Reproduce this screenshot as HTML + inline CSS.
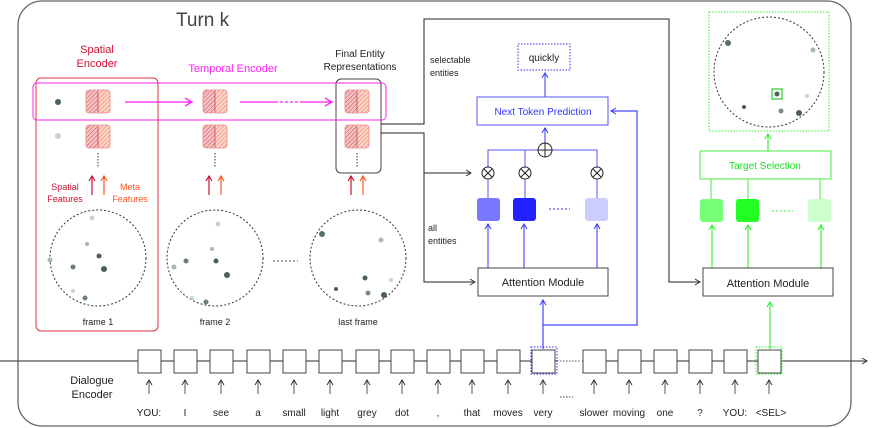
<!DOCTYPE html>
<html><head><meta charset="utf-8"><style>
html,body{margin:0;padding:0;background:#fff}
svg{display:block}
text{font-family:"Liberation Sans",sans-serif}
</style></head><body>
<svg width="872" height="428" viewBox="0 0 872 428" xmlns="http://www.w3.org/2000/svg">
<defs>
<pattern id="h1" width="3" height="3" patternUnits="userSpaceOnUse" patternTransform="rotate(45)"><rect width="3" height="3" fill="#f4c4c4"/><line x1="0" y1="0" x2="0" y2="3" stroke="#d04050" stroke-width="1"/></pattern>
<pattern id="h2" width="3" height="3" patternUnits="userSpaceOnUse" patternTransform="rotate(45)"><rect width="3" height="3" fill="#fbd6cc"/><line x1="0" y1="0" x2="0" y2="3" stroke="#f07050" stroke-width="1"/></pattern>
<marker id="ak" markerWidth="8" markerHeight="8" refX="6" refY="4" orient="auto" markerUnits="userSpaceOnUse"><path d="M1,1 L6,4 L1,7" fill="none" stroke="#333" stroke-width="1"/></marker>
<marker id="ab" markerWidth="8" markerHeight="8" refX="6" refY="4" orient="auto" markerUnits="userSpaceOnUse"><path d="M1,1 L6,4 L1,7" fill="none" stroke="#3333ff" stroke-width="1"/></marker>
<marker id="ag" markerWidth="8" markerHeight="8" refX="6" refY="4" orient="auto" markerUnits="userSpaceOnUse"><path d="M1,1 L6,4 L1,7" fill="none" stroke="#22ee22" stroke-width="1"/></marker>
<marker id="am" markerWidth="10" markerHeight="10" refX="8" refY="5" orient="auto" markerUnits="userSpaceOnUse"><path d="M1,1 L8,5 L1,9" fill="none" stroke="#ff22ee" stroke-width="1.3"/></marker>
<marker id="ar" markerWidth="8" markerHeight="8" refX="6" refY="4" orient="auto" markerUnits="userSpaceOnUse"><path d="M1,1 L6,4 L1,7" fill="none" stroke="#cc1133" stroke-width="1.2"/></marker>
<marker id="ao" markerWidth="8" markerHeight="8" refX="6" refY="4" orient="auto" markerUnits="userSpaceOnUse"><path d="M1,1 L6,4 L1,7" fill="none" stroke="#ff5522" stroke-width="1.2"/></marker>
<g id="cell"><rect x="0" y="0" width="12" height="23" rx="3" fill="url(#h1)"/><rect x="12" y="0" width="12" height="23" rx="3" fill="url(#h2)"/><rect x="0" y="0" width="24" height="23" rx="3" fill="none" stroke="#e88" stroke-width="0.8"/><line x1="12" y1="0" x2="12" y2="23" stroke="#c44" stroke-width="0.8"/></g>
</defs>

<rect x="18" y="1" width="833" height="425" rx="24" fill="none" stroke="#666" stroke-width="1.3"/>
<text x="176" y="26" font-size="19" fill="#444">Turn k</text>

<!-- spatial encoder -->
<text x="97" y="53" font-size="11" fill="#cc1133" text-anchor="middle">Spatial</text>
<text x="97" y="67" font-size="11" fill="#cc1133" text-anchor="middle">Encoder</text>
<rect x="36" y="78" width="122" height="253" rx="5" fill="none" stroke="#dd3344" stroke-width="1"/>
<text x="233" y="72" font-size="11" fill="#ff22ee" text-anchor="middle">Temporal Encoder</text>
<text x="360" y="57" font-size="10" fill="#222" text-anchor="middle">Final Entity</text>
<text x="360" y="70" font-size="10" fill="#222" text-anchor="middle">Representations</text>
<rect x="336" y="79" width="45" height="94" rx="5" fill="none" stroke="#444" stroke-width="1"/>
<rect x="33" y="83" width="353" height="37" rx="4" fill="none" stroke="#ff22ee" stroke-width="1"/>

<use href="#cell" x="86" y="90"/><use href="#cell" x="86" y="125"/>
<use href="#cell" x="203" y="90"/><use href="#cell" x="203" y="125"/>
<use href="#cell" x="345" y="90"/><use href="#cell" x="345" y="125"/>
<circle cx="58" cy="102" r="3" fill="#4a5f5c"/><circle cx="58" cy="136" r="3" fill="#c8d4d2"/>
<line x1="125" y1="102" x2="192" y2="102" stroke="#ff22ee" stroke-width="1.3" marker-end="url(#am)"/>
<line x1="240" y1="102" x2="275" y2="102" stroke="#ff22ee" stroke-width="1.3"/>
<line x1="275" y1="102" x2="300" y2="102" stroke="#ff22ee" stroke-width="1.3" stroke-dasharray="3,2"/>
<line x1="300" y1="102" x2="332" y2="102" stroke="#ff22ee" stroke-width="1.3" marker-end="url(#am)"/>
<g stroke="#333" stroke-width="1" stroke-dasharray="1.5,1.5">
<line x1="98" y1="153" x2="98" y2="167"/><line x1="215" y1="153" x2="215" y2="167"/><line x1="357" y1="153" x2="357" y2="167"/></g>
<g stroke-width="1.2">
<line x1="92" y1="195" x2="92" y2="176" stroke="#cc1133" marker-end="url(#ar)"/><line x1="104" y1="195" x2="104" y2="176" stroke="#ff5522" marker-end="url(#ao)"/>
<line x1="209" y1="195" x2="209" y2="176" stroke="#cc1133" marker-end="url(#ar)"/><line x1="221" y1="195" x2="221" y2="176" stroke="#ff5522" marker-end="url(#ao)"/>
<line x1="351" y1="195" x2="351" y2="176" stroke="#cc1133" marker-end="url(#ar)"/><line x1="363" y1="195" x2="363" y2="176" stroke="#ff5522" marker-end="url(#ao)"/></g>
<text x="65" y="190" font-size="9" fill="#cc1133" text-anchor="middle">Spatial</text>
<text x="65" y="202" font-size="9" fill="#cc1133" text-anchor="middle">Features</text>
<text x="130" y="190" font-size="9" fill="#ff5522" text-anchor="middle">Meta</text>
<text x="130" y="202" font-size="9" fill="#ff5522" text-anchor="middle">Features</text>

<g fill="none" stroke="#333" stroke-width="1" stroke-dasharray="2,2">
<circle cx="98" cy="258" r="48"/><circle cx="215" cy="258" r="48"/><circle cx="358" cy="258" r="48"/></g>
<line x1="273" y1="261" x2="298" y2="261" stroke="#555" stroke-dasharray="2,2"/>
<g>
<circle cx="92" cy="218" r="2.5" fill="#c8d4d2"/><circle cx="87" cy="244" r="2" fill="#a8b8b6"/><circle cx="99" cy="256" r="2.5" fill="#4a5f5c"/><circle cx="73" cy="267" r="2.5" fill="#6a7f7c"/><circle cx="104" cy="269" r="3" fill="#4a5f5c"/><circle cx="50" cy="260" r="2.5" fill="#a8b8b6"/><circle cx="73" cy="291" r="2" fill="#c8d4d2"/><circle cx="85" cy="298" r="2.5" fill="#6a7f7c"/>
<circle cx="218" cy="224" r="2.5" fill="#c8d4d2"/><circle cx="212" cy="249" r="2" fill="#a8b8b6"/><circle cx="186" cy="261" r="2.5" fill="#6a7f7c"/><circle cx="216" cy="261" r="2.5" fill="#4a5f5c"/><circle cx="227" cy="275" r="3" fill="#4a5f5c"/><circle cx="174" cy="267" r="2.5" fill="#a8b8b6"/><circle cx="192" cy="298" r="2" fill="#c8d4d2"/><circle cx="206" cy="302" r="2.5" fill="#6a7f7c"/>
<circle cx="322" cy="234" r="3" fill="#5a6f6c"/><circle cx="381" cy="240" r="2.5" fill="#a8b8b6"/><circle cx="365" cy="278" r="2.5" fill="#4a5f5c"/><circle cx="391" cy="280" r="2" fill="#c8d4d2"/><circle cx="336" cy="289" r="2" fill="#4a5f5c"/><circle cx="368" cy="293" r="2.5" fill="#7a8f8c"/><circle cx="384" cy="295" r="3" fill="#4a5f5c"/>
</g>
<text x="98" y="325" font-size="9" fill="#222" text-anchor="middle">frame 1</text>
<text x="215" y="325" font-size="9" fill="#222" text-anchor="middle">frame 2</text>
<text x="358" y="325" font-size="9" fill="#222" text-anchor="middle">last frame</text>

<!-- black connectors -->
<polyline points="381,124 424,124 424,19 669,19 669,282 700,282" fill="none" stroke="#222" stroke-width="1" marker-end="url(#ak)"/>
<polyline points="381,133 424,133 424,282 475,282" fill="none" stroke="#222" stroke-width="1" marker-end="url(#ak)"/>
<line x1="424" y1="173" x2="471" y2="173" stroke="#222" stroke-width="1" marker-end="url(#ak)"/>
<text x="430" y="63" font-size="9" fill="#222">selectable</text>
<text x="430" y="76" font-size="9" fill="#222">entities</text>
<text x="428" y="231" font-size="9" fill="#222">all</text>
<text x="428" y="244" font-size="9" fill="#222">entities</text>

<!-- blue -->
<rect x="518" y="44" width="52" height="26" fill="none" stroke="#3333ff" stroke-width="1" stroke-dasharray="1.5,1.5"/>
<text x="544" y="61" font-size="10" fill="#222" text-anchor="middle">quickly</text>
<line x1="545" y1="97" x2="545" y2="73" stroke="#5555ff" stroke-width="1.2" marker-end="url(#ab)"/>
<rect x="477" y="97" width="131" height="28" fill="#fff" stroke="#5555ff" stroke-width="1"/>
<text x="543" y="115" font-size="10" fill="#3333ff" text-anchor="middle">Next Token Prediction</text>
<line x1="545" y1="143" x2="545" y2="128" stroke="#5555ff" stroke-width="1.2" marker-end="url(#ab)"/>
<polyline points="488,167 488,150 597,150 597,167" fill="none" stroke="#5555ff" stroke-width="1"/>
<line x1="525" y1="150" x2="525" y2="167" stroke="#5555ff" stroke-width="1"/>
<circle cx="545" cy="150" r="7" fill="#fff" stroke="#222"/><path d="M538,150 H552 M545,143 V157" stroke="#222"/>
<g fill="#fff" stroke="#222">
<circle cx="488" cy="173" r="6"/><circle cx="525" cy="173" r="6"/><circle cx="597" cy="173" r="6"/></g>
<path d="M484,169 L492,177 M492,169 L484,177 M521,169 L529,177 M529,169 L521,177 M593,169 L601,177 M601,169 L593,177" stroke="#222"/>
<g stroke="#5555ff"><line x1="488" y1="179" x2="488" y2="198"/><line x1="525" y1="179" x2="525" y2="198"/><line x1="597" y1="179" x2="597" y2="198"/></g>
<rect x="477" y="198" width="23" height="23" rx="3" fill="#7777ff"/>
<rect x="513" y="198" width="23" height="23" rx="3" fill="#2222ff"/>
<rect x="585" y="198" width="23" height="23" rx="3" fill="#ccccff"/>
<line x1="549" y1="209" x2="570" y2="209" stroke="#3333ff" stroke-dasharray="2,2"/>
<g stroke="#5555ff" stroke-width="1.2">
<line x1="488" y1="268" x2="488" y2="224" marker-end="url(#ab)"/><line x1="524" y1="268" x2="524" y2="224" marker-end="url(#ab)"/><line x1="597" y1="268" x2="597" y2="224" marker-end="url(#ab)"/></g>
<rect x="478" y="268" width="130" height="28" fill="#fff" stroke="#444" stroke-width="1"/>
<text x="543" y="286" font-size="11" fill="#222" text-anchor="middle">Attention Module</text>
<line x1="543" y1="349" x2="543" y2="300" stroke="#4444ff" stroke-width="1.2" marker-end="url(#ab)"/>
<polyline points="543,325 637,325 637,111 611,111" fill="none" stroke="#4444ff" stroke-width="1.2" marker-end="url(#ab)"/>

<!-- green -->
<rect x="709" y="12" width="120" height="119" fill="none" stroke="#33ee33" stroke-width="1" stroke-dasharray="1.5,1.5"/>
<circle cx="769" cy="72" r="55" fill="none" stroke="#333" stroke-dasharray="2,2"/>
<circle cx="728" cy="43" r="3" fill="#5a6f6c"/><circle cx="813" cy="50" r="2.5" fill="#a8b8b6"/><circle cx="807" cy="96" r="2" fill="#c8d4d2"/><circle cx="744" cy="107" r="2" fill="#4a5f5c"/><circle cx="781" cy="111" r="2.5" fill="#7a8f8c"/><circle cx="799" cy="113" r="3" fill="#4a5f5c"/>
<rect x="772" y="89" width="10" height="10" fill="none" stroke="#22cc22" stroke-width="1.2"/><circle cx="777" cy="94" r="2.5" fill="#4a5f5c"/>
<line x1="768" y1="151" x2="768" y2="134" stroke="#44ee44" stroke-width="1.2" marker-end="url(#ag)"/>
<rect x="700" y="151" width="131" height="28" fill="#fff" stroke="#44ee44" stroke-width="1"/>
<text x="765" y="169" font-size="10" fill="#22dd22" text-anchor="middle">Target Selection</text>
<g stroke="#44ee44"><line x1="711" y1="179" x2="711" y2="199"/><line x1="748" y1="179" x2="748" y2="199"/><line x1="820" y1="179" x2="820" y2="199"/></g>
<rect x="700" y="199" width="23" height="23" rx="3" fill="#77ff77"/>
<rect x="736" y="199" width="23" height="23" rx="3" fill="#22ff22"/>
<rect x="808" y="199" width="23" height="23" rx="3" fill="#ccffcc"/>
<line x1="772" y1="211" x2="793" y2="211" stroke="#44ee44" stroke-dasharray="2,2"/>
<g stroke="#44ee44" stroke-width="1.2">
<line x1="712" y1="268" x2="712" y2="225" marker-end="url(#ag)"/><line x1="748" y1="268" x2="748" y2="225" marker-end="url(#ag)"/><line x1="821" y1="268" x2="821" y2="225" marker-end="url(#ag)"/></g>
<rect x="703" y="268" width="130" height="28" fill="#fff" stroke="#444" stroke-width="1"/>
<text x="768" y="287" font-size="11" fill="#222" text-anchor="middle">Attention Module</text>
<line x1="770" y1="349" x2="770" y2="302" stroke="#44ee44" stroke-width="1.2" marker-end="url(#ag)"/>

<!-- dialogue encoder -->
<line x1="0" y1="361" x2="867" y2="361" stroke="#555" stroke-width="1.2" marker-end="url(#ak)"/>
<line x1="557" y1="361" x2="582" y2="361" stroke="#fff" stroke-width="3"/>
<line x1="557" y1="361" x2="581" y2="361" stroke="#555" stroke-dasharray="1.5,1.5"/>
<text x="92" y="384" font-size="11" fill="#222" text-anchor="middle">Dialogue</text>
<text x="92" y="398" font-size="11" fill="#222" text-anchor="middle">Encoder</text>
<rect x="531" y="347" width="26" height="27" fill="none" stroke="#3333ff" stroke-dasharray="1.5,1.5"/>
<rect x="756" y="347" width="26" height="27" fill="none" stroke="#33ee33" stroke-dasharray="1.5,1.5"/>
<g fill="#fff" stroke="#444" stroke-width="1">
<rect x="138" y="350" width="23" height="23"/><rect x="174" y="350" width="23" height="23"/><rect x="210" y="350" width="23" height="23"/><rect x="247" y="350" width="23" height="23"/><rect x="283" y="350" width="23" height="23"/><rect x="319" y="350" width="23" height="23"/><rect x="356" y="350" width="23" height="23"/><rect x="391" y="350" width="23" height="23"/><rect x="427" y="350" width="23" height="23"/><rect x="461" y="350" width="23" height="23"/><rect x="497" y="350" width="23" height="23"/><rect x="532" y="350" width="23" height="23"/><rect x="583" y="350" width="23" height="23"/><rect x="618" y="350" width="23" height="23"/><rect x="654" y="350" width="23" height="23"/><rect x="689" y="350" width="23" height="23"/><rect x="724" y="350" width="23" height="23"/><rect x="758" y="350" width="23" height="23"/>
</g>
<g stroke="#555" stroke-width="1">
<line x1="149" y1="394" x2="149" y2="380" marker-end="url(#ak)"/><line x1="185" y1="394" x2="185" y2="380" marker-end="url(#ak)"/><line x1="221" y1="394" x2="221" y2="380" marker-end="url(#ak)"/><line x1="258" y1="394" x2="258" y2="380" marker-end="url(#ak)"/><line x1="294" y1="394" x2="294" y2="380" marker-end="url(#ak)"/><line x1="330" y1="394" x2="330" y2="380" marker-end="url(#ak)"/><line x1="367" y1="394" x2="367" y2="380" marker-end="url(#ak)"/><line x1="402" y1="394" x2="402" y2="380" marker-end="url(#ak)"/><line x1="438" y1="394" x2="438" y2="380" marker-end="url(#ak)"/><line x1="472" y1="394" x2="472" y2="380" marker-end="url(#ak)"/><line x1="508" y1="394" x2="508" y2="380" marker-end="url(#ak)"/><line x1="543" y1="394" x2="543" y2="380" marker-end="url(#ak)"/><line x1="594" y1="394" x2="594" y2="380" marker-end="url(#ak)"/><line x1="629" y1="394" x2="629" y2="380" marker-end="url(#ak)"/><line x1="665" y1="394" x2="665" y2="380" marker-end="url(#ak)"/><line x1="700" y1="394" x2="700" y2="380" marker-end="url(#ak)"/><line x1="735" y1="394" x2="735" y2="380" marker-end="url(#ak)"/><line x1="769" y1="394" x2="769" y2="380" marker-end="url(#ak)"/>
</g>
<g font-size="10" fill="#222" text-anchor="middle">
<text x="149" y="416">YOU:</text><text x="185" y="416">I</text><text x="221" y="416">see</text><text x="258" y="416">a</text><text x="294" y="416">small</text><text x="330" y="416">light</text><text x="367" y="416">grey</text><text x="402" y="416">dot</text><text x="438" y="416">,</text><text x="472" y="416">that</text><text x="508" y="416">moves</text><text x="543" y="416">very</text><text x="594" y="416">slower</text><text x="629" y="416">moving</text><text x="665" y="416">one</text><text x="700" y="416">?</text><text x="735" y="416">YOU:</text><text x="771" y="416">&lt;SEL&gt;</text>
</g>
<line x1="560" y1="397" x2="573" y2="397" stroke="#444" stroke-dasharray="1.5,1.5"/>
</svg>
</body></html>
